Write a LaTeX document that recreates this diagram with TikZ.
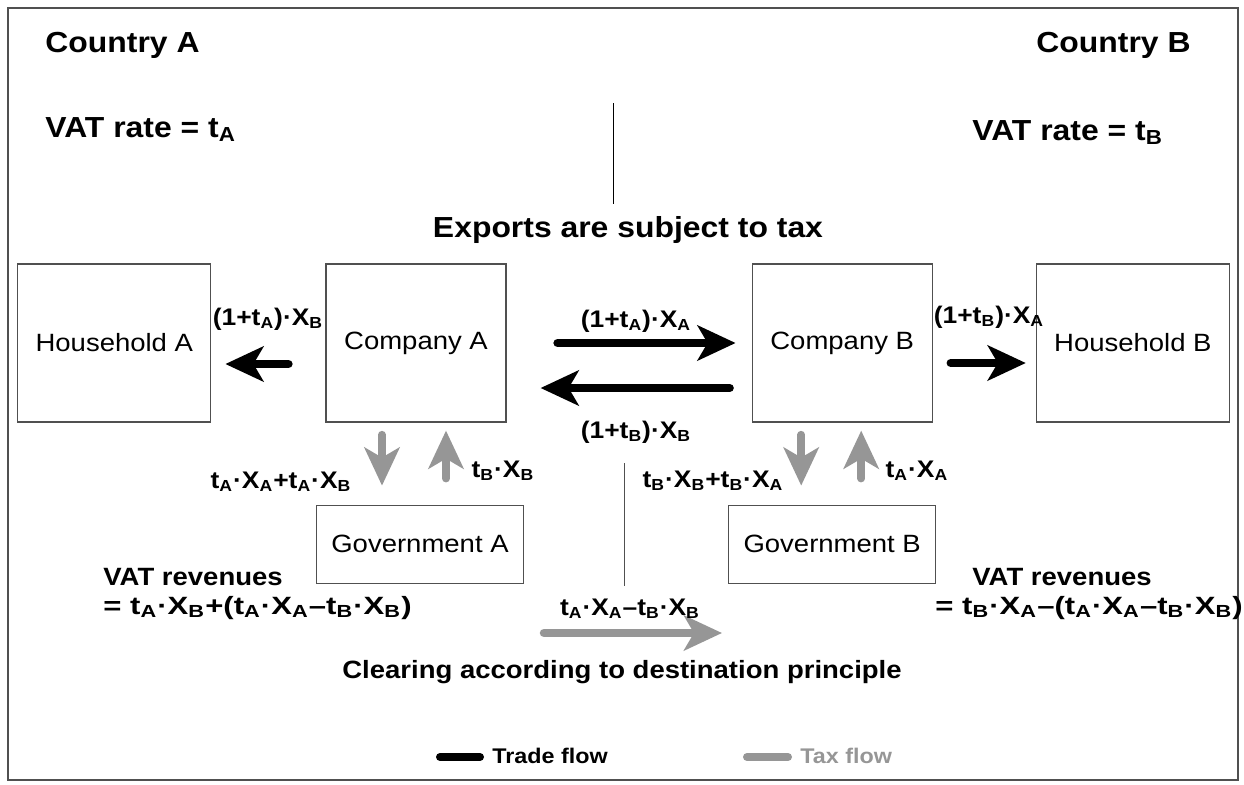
\documentclass[tikz,border=0pt]{standalone}
\usepackage{fontspec}
\setmainfont[FakeStretch=1.1]{Liberation Sans}
\usetikzlibrary{arrows.meta,positioning}
\definecolor{taxgray}{RGB}{150,150,150}
\definecolor{framegray}{RGB}{80,80,80}
\newcommand{\lo}[1]{\textsubscript{#1}}

\tikzstyle{box} = [rectangle, draw=framegray, line width=0.6pt, minimum width=90pt, minimum height=79pt, inner sep=0pt, font=\fontsize{12.5}{15}\selectfont]
\tikzstyle{hh} = [box, minimum width=96.5pt]
\tikzstyle{gov} = [box, minimum width=103.5pt, minimum height=39pt]
\tikzstyle{trade} = [line width=4.25pt, line cap=round, -{Stealth[length=19pt,width=17.5pt,inset=5pt]}]
\tikzstyle{tax} = [trade, draw=taxgray, line width=3.75pt]
\tikzstyle{lbl} = [anchor=base, inner sep=0pt, font=\bfseries\fontsize{12}{14}\selectfont]
\tikzstyle{head} = [anchor=base west, inner sep=0pt, font=\bfseries\fontsize{14.5}{17}\selectfont]
\tikzstyle{rev} = [anchor=base west, inner sep=0pt, font=\bfseries\fontsize{12.5}{15}\selectfont]

\begin{document}
\begin{tikzpicture}[x=0.5pt,y=-0.5pt]
    \useasboundingbox (0,0) rectangle (1244,784);
    \draw[framegray, line width=0.6pt] (8,8) rectangle (1238,780);
    \node[head] (cA) at (45,52) {Country A};
    \node[head, anchor=base east] (cB) at (1191,52) {Country B};
    \node[head] (rA) at (45,137) {VAT rate = t\lo{A}};
    \node[head] (rB) at (972,140) {VAT rate = t\lo{B}};
    \node[head, anchor=base] (ex) at (628,237) {Exports are subject to tax};
    \coordinate (u1) at (613,103);
    \coordinate (u2) at (613,204);
    \draw[line width=0.5pt] (u1) -- (u2);

    \node[box] (CA) at (416,343) {Company A};
    \node[box] (CB) [right=122.5pt of CA] {Company B};
    \node[hh] (HA) [left=57pt of CA] {Household A};
    \node[hh] (HB) [right=51.5pt of CB] {Household B};
    \node[gov] (GA) [below=41pt of CA, xshift=2pt] {Government A};
    \node[gov] (GB) [below=41pt of CB, xshift=-5pt] {Government B};

    % trade flows
    \draw[trade, shorten <=18.5pt, shorten >=7pt] ([yshift=-10.5pt]CA.west) -- ([yshift=-10.5pt]HA.east);
    \draw[trade, shorten <=25.5pt, shorten >=8pt] (CA.east) -- (CB.west);
    \draw[trade, shorten <=11pt, shorten >=17pt] ([yshift=-22.5pt]CB.west) -- ([yshift=-22.5pt]CA.east);
    \draw[trade, shorten <=9pt, shorten >=5pt] ([yshift=-10pt]CB.east) -- ([yshift=-10pt]HB.west);
    \node[lbl] (l1) at (268,325) {(1+t\lo{A})·X\lo{B}};
    \node[lbl] (l2) at (636,327) {(1+t\lo{A})·X\lo{A}};
    \node[lbl] (l3) at (636,438) {(1+t\lo{B})·X\lo{B}};
    \node[lbl] (l4) at (989,323) {(1+t\lo{B})·X\lo{A}};

    % tax flows
    \draw[tax, shorten <=6pt, shorten >=9.5pt] ([xshift=-17pt]CA.south) -- ([xshift=-17pt]CA.south |- GA.north);
    \draw[tax, shorten <=13pt, shorten >=4pt] ([xshift=15pt]CA.south |- GA.north) -- ([xshift=15pt]CA.south);
    \draw[tax, shorten <=6pt, shorten >=9.5pt] ([xshift=-20.5pt]CB.south) -- ([xshift=-20.5pt]CB.south |- GB.north);
    \draw[tax, shorten <=13pt, shorten >=4pt] ([xshift=9.5pt]CB.south |- GB.north) -- ([xshift=9.5pt]CB.south);
    \node[lbl] (l5) at (281,488) {t\lo{A}·X\lo{A}+t\lo{A}·X\lo{B}};
    \node[lbl] (l6) at (503,477) {t\lo{B}·X\lo{B}};
    \node[lbl] (l7) at (713,487) {t\lo{B}·X\lo{B}+t\lo{B}·X\lo{A}};
    \node[lbl] (l8) at (917,477) {t\lo{A}·X\lo{A}};

    % clearing
    \coordinate (d1) at (624,463);
    \coordinate (d2) at (624,586);
    \draw[framegray, line width=0.5pt] (d1) -- (d2);
    \coordinate (clS) at (544,633);
    \coordinate (clE) at (722,633);
    \draw[tax, line width=4.25pt] (clS) -- (clE);
    \node[lbl] (l9) at (630,615) {t\lo{A}·X\lo{A}–t\lo{B}·X\lo{B}};
    \node[rev, anchor=base] (cl) at (622,678) {Clearing according to destination principle};
    \node[rev] (vA) at (103,585) {VAT revenues};
    \node[rev] (eA) at (103,614) {\scalebox{1.13}[1]{= t\lo{A}·X\lo{B}+(t\lo{A}·X\lo{A}–t\lo{B}·X\lo{B})}};
    \node[rev] (vB) at (972,585) {VAT revenues};
    \node[rev] (eB) at (935,614) {\scalebox{1.13}[1]{= t\lo{B}·X\lo{A}–(t\lo{A}·X\lo{A}–t\lo{B}·X\lo{B})}};

    % legend
    \coordinate (k1) at (440,757);
    \coordinate (k2) at (480,757);
    \coordinate (k3) at (747,757);
    \coordinate (k4) at (788,757);
    \draw[line width=4pt, line cap=round] (k1) -- (k2);
    \draw[taxgray, line width=4pt, line cap=round] (k3) -- (k4);
    \node[rev, font=\bfseries\fontsize{10.6}{12}\selectfont] (tr) at (492,763) {Trade flow};
    \node[rev, text=taxgray, font=\bfseries\fontsize{10.6}{12}\selectfont] (tx) at (800,763) {Tax flow};
\end{tikzpicture}
\end{document}
